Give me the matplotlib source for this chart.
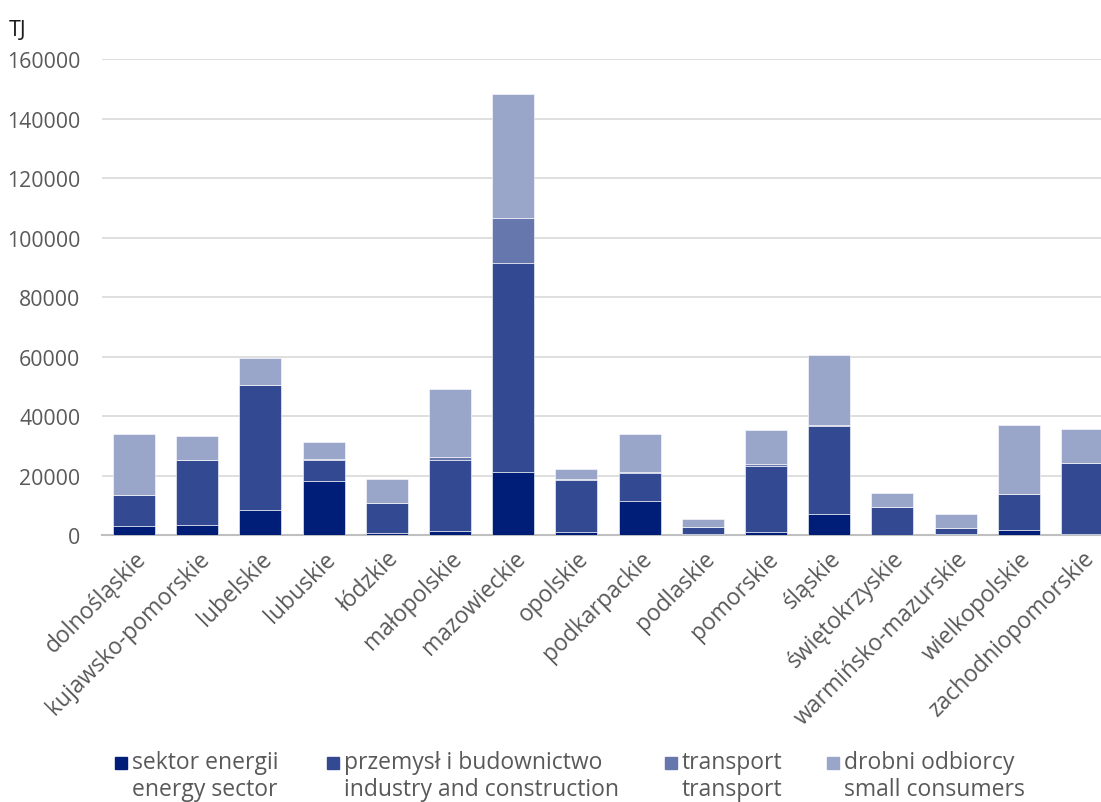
import matplotlib.pyplot as plt
from matplotlib.patches import Rectangle
import numpy as np

plt.rcParams['font.family'] = ['Open Sans', 'DejaVu Sans']

regions = ['dolnośląskie', 'kujawsko-pomorskie', 'lubelskie', 'lubuskie', 'łódzkie',
           'małopolskie', 'mazowieckie', 'opolskie', 'podkarpackie', 'podlaskie',
           'pomorskie', 'śląskie', 'świętokrzyskie', 'warmińsko-mazurskie',
           'wielkopolskie', 'zachodniopomorskie']

energy = [3200, 3600, 8600, 18300, 700, 1500, 21200, 1000, 11600, 300,
          1200, 7200, 200, 300, 1900, 300]
industry = [10400, 21700, 41900, 7100, 10200, 23800, 70300, 17700, 9400, 2500,
            22200, 29400, 9200, 2100, 12000, 23900]
transport = [100, 100, 100, 100, 100, 1100, 15000, 300, 100, 100,
             500, 300, 100, 100, 100, 100]
small = [20300, 7900, 8800, 6000, 7900, 22700, 41800, 3200, 12900, 2500,
         11400, 23800, 4800, 4700, 22900, 11400]

series = ['sektor energii\nenergy sector', 'przemysł i budownictwo\nindustry and construction',
          'transport\ntransport', 'drobni odbiorcy\nsmall consumers']
colors = ['#001D77', '#334A92', '#6677AD', '#99A5C9']
yticks = [0, 20000, 40000, 60000, 80000, 100000, 120000, 140000, 160000]

grey = '#595959'

fig = plt.figure(figsize=(11.01, 8.03), dpi=100)
ax = fig.add_axes([102.4 / 1101, 1 - 536.3 / 803, 1011.2 / 1101, 476.3 / 803])

x = np.arange(len(regions))
bottom = np.zeros(len(regions))
for vals, c in zip([energy, industry, transport, small], colors):
    ax.bar(x, vals, width=0.665, bottom=bottom, color=c, edgecolor='white',
           linewidth=0.4, zorder=3)
    bottom += np.array(vals)

ax.set_xlim(-0.5, len(regions) - 0.5)
ax.set_ylim(0, 160000)
ax.set_yticks(yticks)
ax.set_yticklabels([str(v) for v in yticks], fontsize=15.3, color=grey)
ax.set_xticks(x)
ax.set_xticklabels(regions, rotation=45, ha='right', rotation_mode='anchor',
                   fontsize=16.5, color=grey)
ax.tick_params(axis='both', length=0)
ax.tick_params(axis='y', pad=16)
ax.tick_params(axis='x', pad=8)
ax.grid(axis='y', color='#d9d9d9', linewidth=1.2, zorder=0)
for s in ['top', 'right', 'left']:
    ax.spines[s].set_visible(False)
ax.spines['bottom'].set_color('#bfbfbf')
ax.spines['bottom'].set_linewidth(1.5)

fig.text(9 / 1101, 1 - 30 / 803, 'TJ', fontsize=15.5, color='#1a1a1a', va='center')

# legend
leg_x = [115, 327, 665, 827]
for lx, lab, c in zip(leg_x, series, colors):
    fig.patches.append(Rectangle((lx / 1101, 1 - 770 / 803), 12 / 1101, 12 / 803,
                                 transform=fig.transFigure, color=c))
    fig.text((lx + 17) / 1101, 1 - 751 / 803, lab, fontsize=16.5, color=grey,
             va='top', ha='left', linespacing=1.15)

fig.savefig('out.png', dpi=100)
